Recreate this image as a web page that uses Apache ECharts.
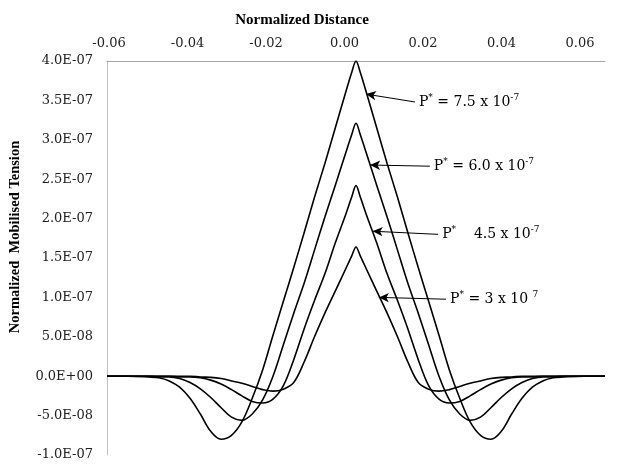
<!DOCTYPE html>
<html>
<head>
<meta charset="utf-8">
<script src="https://cdn.jsdelivr.net/npm/echarts@6/dist/echarts.min.js"></script>
<style>
  html, body { margin: 0; padding: 0; background: #fff; }
  #chart { width: 629px; height: 468px; }
</style>
</head>
<body>
<div id="chart"></div>
<script>
// distance values (normalized)
const xValues = [-0.06, -0.055, -0.05, -0.0475, -0.045, -0.0425, -0.04, -0.0375, -0.035, -0.0325, -0.03, -0.0275, -0.025, -0.0225, -0.02, -0.0175, -0.015, -0.0125, -0.01, -0.0075, -0.005, -0.0025, -0.001, 0,
  0.001, 0.0025, 0.005, 0.0075, 0.01, 0.0125, 0.015, 0.0175, 0.02, 0.0225, 0.025, 0.0275, 0.03, 0.0325, 0.035, 0.0375, 0.04, 0.0425, 0.045, 0.0475, 0.05, 0.055, 0.06]

// mobilised tension, in units of 1E-07
const tensionP75 = [0, 0, -0.01, -0.02, -0.06, -0.14, -0.28, -0.48, -0.70, -0.80, -0.75, -0.58, -0.28, 0.08, 0.52, 0.95, 1.38, 1.82, 2.27, 2.70, 3.15, 3.60, 3.86, 4.00,
  3.86, 3.60, 3.15, 2.70, 2.27, 1.82, 1.38, 0.95, 0.52, 0.08, -0.28, -0.58, -0.75, -0.80, -0.70, -0.48, -0.28, -0.14, -0.06, -0.02, -0.01, 0, 0]
const tensionP60 = [0, 0, 0, -0.01, -0.01, -0.03, -0.08, -0.16, -0.27, -0.40, -0.52, -0.56, -0.48, -0.30, 0.00, 0.40, 0.80, 1.18, 1.60, 2.02, 2.42, 2.83, 3.07, 3.21,
  3.07, 2.83, 2.42, 2.02, 1.60, 1.18, 0.80, 0.40, 0.00, -0.30, -0.48, -0.56, -0.52, -0.40, -0.27, -0.16, -0.08, -0.03, -0.01, -0.01, 0, 0, 0]
const tensionP45 = [0, 0, 0, 0, 0, -0.01, -0.01, -0.02, -0.05, -0.10, -0.17, -0.25, -0.32, -0.34, -0.29, -0.12, 0.21, 0.60, 0.96, 1.30, 1.69, 2.05, 2.28, 2.42,
  2.28, 2.05, 1.69, 1.30, 0.96, 0.60, 0.21, -0.12, -0.29, -0.34, -0.32, -0.25, -0.17, -0.10, -0.05, -0.02, -0.01, -0.01, 0, 0, 0, 0, 0]
const tensionP30 = [0, 0, 0, 0, 0, 0, 0, -0.01, -0.015, -0.03, -0.06, -0.09, -0.13, -0.17, -0.19, -0.165, -0.08, 0.18, 0.50, 0.80, 1.08, 1.36, 1.53, 1.64,
  1.53, 1.36, 1.08, 0.80, 0.50, 0.18, -0.08, -0.165, -0.19, -0.17, -0.13, -0.09, -0.06, -0.03, -0.015, -0.01, 0, 0, 0, 0, 0, 0, 0]

const xTickLabels = ['-0.06', '-0.04', '-0.02', '0.00', '0.02', '0.04', '0.06']
const yTickLabels = ['-1.0E-07', '-5.0E-08', '0.0E+00', '5.0E-08', '1.0E-07', '1.5E-07', '2.0E-07', '2.5E-07', '3.0E-07', '3.5E-07', '4.0E-07']

// annotation arrows: [tail, tip] in data coords, plus label text
const annotations = [
  { tail: [0.0142, 3.48], tip: [0.0024, 3.58], text: '{t|P}{s|*}{t| = 7.5 x 10}{s|-7}' },
  { tail: [0.0178, 2.665], tip: [0.0034, 2.68], text: '{t|P}{s|*}{t| = 6.0 x 10}{s|-7}' },
  { tail: [0.0198, 1.80], tip: [0.0040, 1.84], text: '{t|P}{s|*}{t|    4.5 x 10}{s|-7}' },
  { tail: [0.0217, 0.977], tip: [0.0055, 1.0], text: '{t|P}{s|*}{t| = 3 x 10 }{s|7}' }
]

const seriesData = [tensionP75, tensionP60, tensionP45, tensionP30]
const serif = 'DejaVu Serif'

const chart = echarts.init(document.getElementById('chart'))

const series = seriesData.map((vals, i) => ({
  type: 'line',
  xAxisIndex: 0,
  yAxisIndex: 0,
  data: xValues.map((x, j) => [x, vals[j]]),
  showSymbol: false,
  smooth: 0.35,
  lineStyle: { color: '#000', width: 1.6 },
  silent: true,
  markLine: {
    silent: true,
    symbol: ['none', 'arrow'],
    symbolSize: [7, 10],
    lineStyle: { color: '#000', width: 1, type: 'solid' },
    label: { show: false },
    data: [[{ coord: annotations[i].tail }, { coord: annotations[i].tip }]]
  },
  markPoint: {
    silent: true,
    symbolSize: 0,
    data: [{ coord: annotations[i].tail }],
    label: {
      show: true,
      position: 'right',
      distance: 4,
      formatter: annotations[i].text,
      rich: {
        t: { fontFamily: serif, fontSize: 14, color: '#000', lineHeight: 18 },
        s: { fontFamily: serif, fontSize: 9, color: '#000', verticalAlign: 'top' }
      }
    }
  }
}))

const option = {
  animation: false,
  grid: [
    { left: 107, right: 24, top: 61, bottom: 13 },
    { left: 109, right: 49, top: 61, bottom: 13 }
  ],
  xAxis: [
    {
      gridIndex: 0,
      type: 'value',
      position: 'top',
      min: -0.06,
      max: 0.06,
      interval: 0.02,
      axisLine: { show: true, onZero: false, lineStyle: { color: '#a6a6a6', width: 1 } },
      axisTick: { show: false },
      axisLabel: { show: false },
      splitLine: { show: false }
    },
    {
      gridIndex: 1,
      type: 'value',
      position: 'top',
      min: -0.06,
      max: 0.06,
      interval: 0.02,
      axisLine: { show: false },
      axisTick: { show: false },
      splitLine: { show: false },
      axisLabel: {
        margin: 11,
        fontFamily: serif,
        fontSize: 13,
        color: '#222',
        formatter: (v) => xTickLabels[Math.round((v + 0.06) / 0.02)]
      }
    }
  ],
  yAxis: [
    {
      gridIndex: 0,
      type: 'value',
      min: -1,
      max: 4,
      interval: 0.5,
      axisLine: { show: true, onZero: false, lineStyle: { color: '#c0c0c0', width: 1 } },
      axisTick: { show: false },
      splitLine: { show: false },
      axisLabel: {
        margin: 14,
        fontFamily: serif,
        fontSize: 13,
        color: '#222',
        formatter: (v) => yTickLabels[Math.round((v + 1) / 0.5)]
      }
    },
    {
      gridIndex: 1,
      type: 'value',
      min: -1,
      max: 4,
      show: false
    }
  ],
  graphic: [
    {
      type: 'text',
      x: 302,
      y: 20,
      style: {
        text: 'Normalized Distance',
        font: 'bold 15px "Liberation Serif"',
        fill: '#000',
        textAlign: 'center',
        textVerticalAlign: 'middle'
      }
    },
    {
      type: 'text',
      x: 15,
      y: 237,
      rotation: Math.PI / 2,
      style: {
        text: 'Normalized  Mobilised Tension',
        font: 'bold 14.5px "Liberation Serif"',
        fill: '#000',
        textAlign: 'center',
        textVerticalAlign: 'middle'
      }
    }
  ],
  series: series
}

chart.setOption(option)
</script>
</body>
</html>
